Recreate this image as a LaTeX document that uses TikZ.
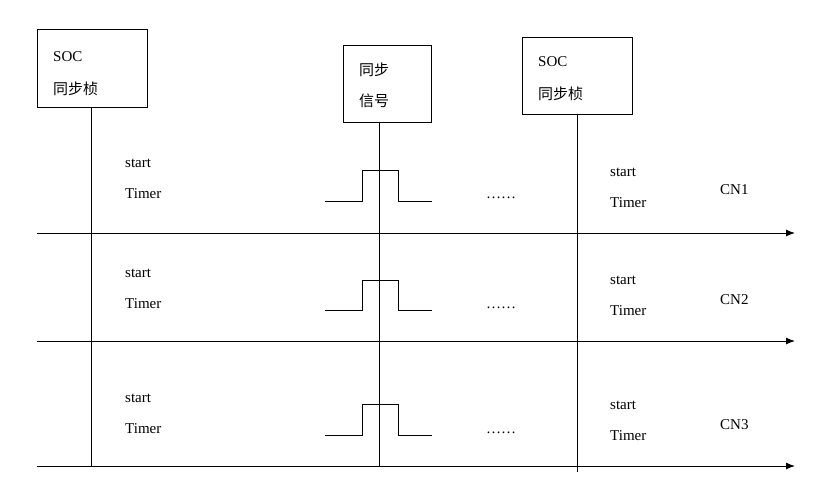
\documentclass[tikz,border=0pt]{standalone}
\usepackage{fontspec}
\setmainfont{Liberation Serif}
\newfontfamily\cjk{Noto Sans CJK SC}
\usetikzlibrary{arrows.meta}
\begin{document}
\begin{tikzpicture}[x=1pt,y=-1pt,
  box/.style={draw,line width=1pt,minimum width=110pt,minimum height=77pt,inner sep=0},
  lbl/.style={anchor=west,font=\fontsize{15}{17}\selectfont,inner sep=0},
  axis/.style={line width=1pt,-{Latex[length=9pt,width=7pt]}},
  ln/.style={line width=1pt}]
\useasboundingbox (0,0) rectangle (829,503);
\node[box] (b1) at (92,68.5) {};
\node[box,minimum width=88pt] (b2) at (387,84) {};
\node[box] (b3) at (577,76) {};
\node[lbl] at (53,57) {SOC};
\node[lbl] at (53,89) {\cjk 同步桢};
\node[lbl] at (359,70) {\cjk 同步};
\node[lbl] at (359,101) {\cjk 信号};
\node[lbl] at (538,62) {SOC};
\node[lbl] at (538,94) {\cjk 同步桢};
\coordinate (e1) at (91,467); \coordinate (e2) at (379,467); \coordinate (e3) at (577,472);
\draw[ln] (b1.south -| e1) -- (e1);
\draw[ln] (b2.south -| e2) -- (e2);
\draw[ln] (b3.south -| e3) -- (e3);
\foreach \y/\b/\t/\s/\r/\cn in {233/201/170/163/172/1,341/310/280/273/280/2,466/435/404/398/405/3}{
  \coordinate (a\cn) at (37,\y); \coordinate (z\cn) at (795,\y);
  \draw[axis] (a\cn) -- (z\cn);
  \draw[ln] (325,\b) -- (362,\b) -- (362,\t) -- (398,\t) -- (398,\b) -- (432,\b);
  \node[lbl] at (125,\s) {start};
  \node[lbl] at (125,\s+31) {Timer};
  \node[lbl] at (610,\r) {start};
  \node[lbl] at (610,\r+31) {Timer};
  \node[lbl] at (720,\s+27) {CN\cn};
  \node[lbl] at (486,\s+35) {……};
}
\end{tikzpicture}
\end{document}
